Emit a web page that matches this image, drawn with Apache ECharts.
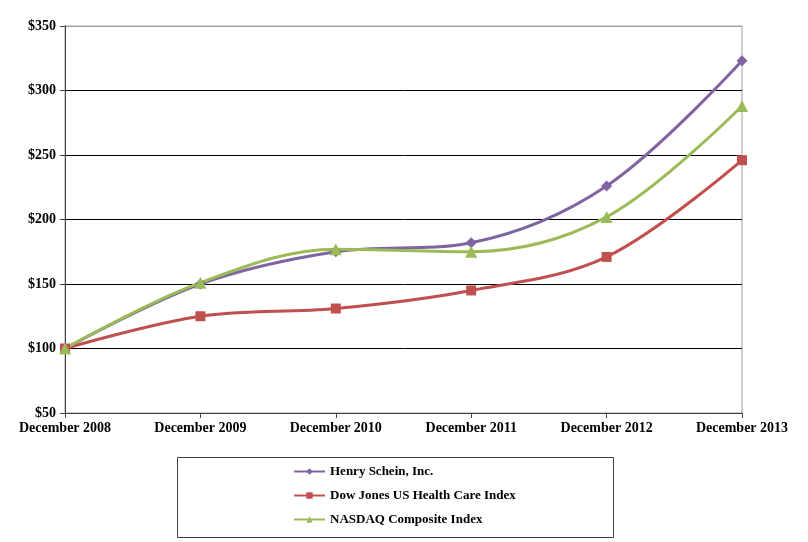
<!DOCTYPE html>
<html><head><meta charset="utf-8">
<script src="https://cdn.jsdelivr.net/npm/echarts@6/dist/echarts.min.js"></script>
<style>html,body{margin:0;padding:0;background:#fff}#c{width:808px;height:542px}</style>
</head><body><div id="c"></div>
<script>
const categories = ['December 2008','December 2009','December 2010','December 2011','December 2012','December 2013'];
const henrySchein = [100, 150, 175, 182, 226, 323];
const dowJones = [100, 125, 131, 145, 171, 246];
const nasdaq = [100, 151, 177, 175, 202, 288];
const yTicks = [50, 100, 150, 200, 250, 300, 350];

const font = 'Liberation Serif';
const chart = echarts.init(document.getElementById('c'));
chart.setOption({
  animation: false,
  grid: {left: 65, right: 66, top: 26, bottom: 129, show: true, borderColor: '#a0a0a0', borderWidth: 1},
  xAxis: {
    type: 'category', data: categories, boundaryGap: false,
    axisLine: {lineStyle: {color: '#404040', width: 1}},
    axisTick: {show: true, length: 5, lineStyle: {color: '#404040'}},
    axisLabel: {color: '#000', fontFamily: font, fontWeight: 'bold', fontSize: 14, margin: 8, interval: 0},
    splitLine: {show: false}
  },
  yAxis: {
    type: 'value', min: yTicks[0], max: yTicks[yTicks.length-1], interval: 50,
    axisLine: {show: true, lineStyle: {color: '#404040', width: 1}},
    axisTick: {show: true, length: 5, lineStyle: {color: '#404040'}},
    axisLabel: {color: '#000', fontFamily: font, fontWeight: 'bold', fontSize: 14, margin: 9, formatter: v => '$' + v},
    splitLine: {show: true, lineStyle: {color: ['#000','#000','#000','#000','#000','#000','#a0a0a0'], width: 1}}
  },
  legend: {
    orient: 'vertical', left: 288, top: 460, itemGap: 11,
    itemWidth: 31, itemHeight: 8,
    textStyle: {color: '#000', fontFamily: font, fontWeight: 'bold', fontSize: 13},
    data: ['Henry Schein, Inc.', 'Dow Jones US Health Care Index', 'NASDAQ Composite Index']
  },
  graphic: [{type: 'rect', shape: {x: 177.5, y: 457.5, width: 436, height: 80}, style: {fill: 'none', stroke: '#404040', lineWidth: 1}}],
  series: [
    {name: 'Henry Schein, Inc.', type: 'line', data: henrySchein, smooth: 0.35, symbol: 'diamond', symbolSize: 11,
     lineStyle: {color: '#8064A2', width: 3}, itemStyle: {color: '#8064A2'}},
    {name: 'Dow Jones US Health Care Index', type: 'line', data: dowJones, smooth: 0.35, symbol: 'rect', symbolSize: 10,
     lineStyle: {color: '#C0504D', width: 3}, itemStyle: {color: '#C0504D'}},
    {name: 'NASDAQ Composite Index', type: 'line', data: nasdaq, smooth: 0.35, symbol: 'triangle', symbolSize: 12,
     lineStyle: {color: '#9BBB59', width: 3}, itemStyle: {color: '#9BBB59'}}
  ]
});
</script></body></html>
